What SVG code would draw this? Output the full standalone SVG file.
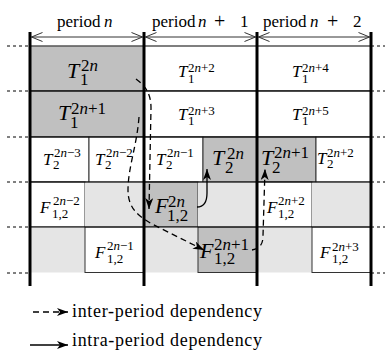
<svg xmlns="http://www.w3.org/2000/svg" width="385" height="351" viewBox="0 0 385 351">
<style>
text { font-family: "Liberation Serif", "DejaVu Serif", serif; fill: #000; }
.m { font-style: italic; }
.i { font-style: italic; }
.w { font-size: 17px; }
.g { font-size: 22px; }
.ws { font-size: 13px; }
.gs { font-size: 17px; }
.lab { font-size: 17px; }
.plus { font-size: 20px; }
.leg { font-size: 18px; }
.dark { fill: #c0c0c0; stroke: #333; stroke-width: 1; }
.white { fill: #fff; stroke: #333; stroke-width: 1; }
.light { fill: #e5e5e5; stroke: none; }
.row { stroke: #000; stroke-width: 1; fill: none; }
.ext { stroke: #000; stroke-width: 1; stroke-dasharray: 3 3; fill: none; }
.thick { stroke: #000; stroke-width: 3; }
.per { stroke: #333; stroke-width: 1; fill: none; marker-start: url(#open); marker-end: url(#open); }
.dep { stroke: #000; stroke-width: 1.3; fill: none; stroke-dasharray: 6 4; marker-end: url(#ah); }
.intra { stroke: #000; stroke-width: 1.3; fill: none; marker-end: url(#ah); }
</style>
<defs>
<marker id="ah" markerWidth="12" markerHeight="8" refX="11" refY="4" orient="auto" markerUnits="userSpaceOnUse">
<path d="M0,0 L11,4 L0,8 L3,4 Z" fill="#000"/>
</marker>
<marker id="open" markerWidth="13" markerHeight="11" refX="11.5" refY="5" orient="auto-start-reverse" markerUnits="userSpaceOnUse">
<path d="M0.5,0.5 L11.5,5 L0.5,9.5" fill="none" stroke="#333" stroke-width="1"/>
</marker>
</defs>

<!-- period labels -->
<g id="periods">
<text class="lab" x="57" y="27">period<tspan class="i" x="104">n</tspan></text>
<text class="lab" x="152" y="27">period<tspan class="i" x="198">n</tspan><tspan class="plus" x="214" y="28">+</tspan><tspan x="240" y="27">1</tspan></text>
<text class="lab" x="263" y="27">period<tspan class="i" x="310">n</tspan><tspan class="plus" x="327" y="28">+</tspan><tspan x="353" y="27">2</tspan></text>
<line class="per" x1="31.5" y1="37" x2="142.5" y2="37"/>
<line class="per" x1="145.5" y1="37" x2="255.5" y2="37"/>
<line class="per" x1="258.5" y1="37" x2="369.5" y2="37"/>
</g>

<!-- row 1 -->
<g id="T1_2n"><rect class="dark" x="30" y="46" width="114" height="45"/>
<text x="67" y="78"><tspan class="m g">T</tspan><tspan class="gs" x="81" y="71">2<tspan class="i">n</tspan></tspan><tspan class="gs" x="80" y="85">1</tspan></text></g>
<g id="T1_2n2"><rect class="white" x="144" y="46" width="113" height="45"/>
<text x="178" y="77"><tspan class="m w">T</tspan><tspan class="ws" x="188" y="72">2<tspan class="i">n</tspan>+2</tspan><tspan class="ws" x="188" y="83">1</tspan></text></g>
<g id="T1_2n4"><rect class="white" x="257" y="46" width="114" height="45"/>
<text x="292" y="77"><tspan class="m w">T</tspan><tspan class="ws" x="302" y="72">2<tspan class="i">n</tspan>+4</tspan><tspan class="ws" x="302" y="83">1</tspan></text></g>

<!-- row 2 -->
<g id="T1_2n1"><rect class="dark" x="30" y="91" width="114" height="46"/>
<text x="58" y="120"><tspan class="m g">T</tspan><tspan class="gs" x="71" y="114">2<tspan class="i">n</tspan>+1</tspan><tspan class="gs" x="70" y="128">1</tspan></text></g>
<g id="T1_2n3"><rect class="white" x="144" y="91" width="113" height="46"/>
<text x="178" y="120"><tspan class="m w">T</tspan><tspan class="ws" x="188" y="115">2<tspan class="i">n</tspan>+3</tspan><tspan class="ws" x="188" y="125">1</tspan></text></g>
<g id="T1_2n5"><rect class="white" x="257" y="91" width="114" height="46"/>
<text x="292" y="120"><tspan class="m w">T</tspan><tspan class="ws" x="302" y="115">2<tspan class="i">n</tspan>+5</tspan><tspan class="ws" x="302" y="125">1</tspan></text></g>

<!-- row 3 -->
<g id="T2_2nm3"><rect class="white" x="30" y="137" width="59" height="45"/>
<text x="43" y="165"><tspan class="m w">T</tspan><tspan class="ws" x="54" y="157">2<tspan class="i">n</tspan>−3</tspan><tspan class="ws" x="53" y="169">2</tspan></text></g>
<g id="T2_2nm2"><rect class="white" x="89" y="137" width="55" height="45"/>
<text x="95" y="165"><tspan class="m w">T</tspan><tspan class="ws" x="106" y="157">2<tspan class="i">n</tspan>−2</tspan><tspan class="ws" x="105" y="169">2</tspan></text></g>
<g id="T2_2nm1"><rect class="white" x="144" y="137" width="59" height="45"/>
<text x="156" y="165"><tspan class="m w">T</tspan><tspan class="ws" x="167" y="157">2<tspan class="i">n</tspan>−1</tspan><tspan class="ws" x="166" y="169">2</tspan></text></g>
<g id="T2_2n"><rect class="dark" x="203" y="137" width="54" height="45"/>
<text x="212" y="165"><tspan class="m g">T</tspan><tspan class="gs" x="227" y="159">2<tspan class="i">n</tspan></tspan><tspan class="gs" x="225" y="173">2</tspan></text></g>
<g id="T2_2n1"><rect class="dark" x="257" y="137" width="59" height="45"/>
<text x="261" y="165"><tspan class="m g">T</tspan><tspan class="gs" x="274" y="158">2<tspan class="i">n</tspan>+1</tspan><tspan class="gs" x="272" y="173">2</tspan></text></g>
<g id="T2_2n2"><rect class="white" x="316" y="137" width="55" height="45"/>
<text x="317" y="164"><tspan class="m w">T</tspan><tspan class="ws" x="327" y="157">2<tspan class="i">n</tspan>+2</tspan><tspan class="ws" x="327" y="168">2</tspan></text></g>

<!-- row 4 -->
<g id="F_2nm2"><rect class="white" x="30" y="182" width="55" height="45"/>
<text x="40" y="213"><tspan class="m w">F</tspan><tspan class="ws" x="53" y="205">2<tspan class="i">n</tspan>−2</tspan><tspan class="ws" x="52" y="218">1,2</tspan></text></g>
<g id="L4a"><rect class="light" x="85" y="182.5" width="59" height="44.5"/></g>
<g id="F_2n"><rect class="dark" x="144" y="182" width="54" height="45"/>
<text x="155" y="213"><tspan class="m g">F</tspan><tspan class="gs" x="168" y="207">2<tspan class="i">n</tspan></tspan><tspan class="gs" x="167" y="221">1,2</tspan></text></g>
<g id="L4b"><rect class="light" x="198" y="182.5" width="59" height="44.5"/></g>
<g id="F_2n2"><rect class="white" x="257" y="182" width="55" height="45"/>
<text x="267" y="213"><tspan class="m w">F</tspan><tspan class="ws" x="278" y="205">2<tspan class="i">n</tspan>+2</tspan><tspan class="ws" x="278" y="218">1,2</tspan></text></g>
<g id="L4c"><rect class="light" x="312" y="182.5" width="59" height="44.5"/></g>

<!-- row 5 -->
<g id="L5a"><rect class="light" x="30" y="227" width="55" height="45.5"/></g>
<g id="F_2nm1"><rect class="white" x="85" y="227" width="59" height="45.5"/>
<text x="95" y="258"><tspan class="m w">F</tspan><tspan class="ws" x="107" y="250">2<tspan class="i">n</tspan>−1</tspan><tspan class="ws" x="107" y="263">1,2</tspan></text></g>
<g id="L5b"><rect class="light" x="144" y="227" width="54" height="45.5"/></g>
<g id="F_2n1"><rect class="dark" x="198" y="227" width="59" height="45.5"/>
<text x="200" y="258"><tspan class="m g">F</tspan><tspan class="gs" x="214" y="250">2<tspan class="i">n</tspan>+1</tspan><tspan class="gs" x="214" y="264">1,2</tspan></text></g>
<g id="L5c"><rect class="light" x="257" y="227" width="55" height="45.5"/></g>
<g id="F_2n3"><rect class="white" x="312" y="227" width="59" height="45.5"/>
<text x="320" y="258"><tspan class="m w">F</tspan><tspan class="ws" x="332" y="251">2<tspan class="i">n</tspan>+3</tspan><tspan class="ws" x="332" y="263">1,2</tspan></text></g>

<!-- grid lines -->
<g id="grid">
<line x1="30" y1="46" x2="371" y2="46" stroke="#666" stroke-width="1.2"/>
<line class="row" x1="30" y1="91" x2="371" y2="91"/>
<line class="row" x1="30" y1="137" x2="371" y2="137"/>
<line class="row" x1="30" y1="182" x2="371" y2="182"/>
<line class="row" x1="30" y1="227" x2="371" y2="227"/>
<path class="ext" d="M7,46H30M7,91H30M7,137H30M7,182H30M7,227H30M7,273H30"/>
<path class="ext" d="M371,46H385M371,91H385M371,137H385M371,182H385M371,227H385M371,273H385"/>
<line class="thick" x1="30" y1="32" x2="30" y2="286"/>
<line class="thick" x1="144" y1="32" x2="144" y2="286"/>
<line class="thick" x1="257" y1="32" x2="257" y2="286"/>
<line class="thick" x1="371" y1="32" x2="371" y2="286"/>
</g>

<!-- connectors -->
<g id="connectors">
<path class="dep" d="M136,79 C144,85 151,92 151,108 L149,209"/>
<path class="dep" d="M139,117 C137,145 128,168 128,190 C128,208 138,216 152,224 L204,250"/>
<path class="dep" d="M252,250 C258,249 263,246 263,236 L265,169"/>
<path class="intra" d="M197,207 C205,207 207,201 207,193 L207,169"/>
</g>

<!-- legend -->
<g id="legend">
<path class="dep" d="M33,312 L68,312" stroke-dasharray="5 7"/>
<text class="leg" x="72" y="317" textLength="190" lengthAdjust="spacing">inter-period dependency</text>
<path class="intra" d="M30,345 L68,345"/>
<text class="leg" x="72" y="346" textLength="190" lengthAdjust="spacing">intra-period dependency</text>
</g>
</svg>
